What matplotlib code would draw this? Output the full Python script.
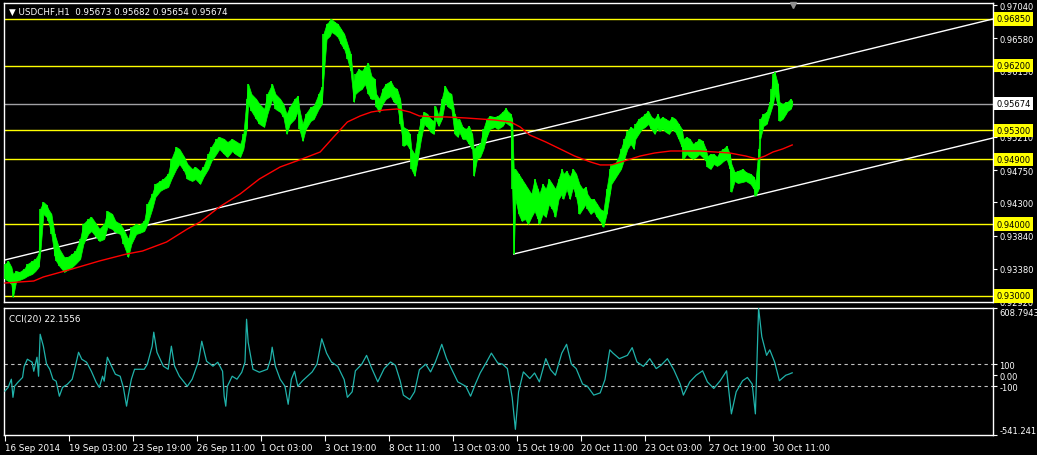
import matplotlib.pyplot as plt
from matplotlib.transforms import blended_transform_factory

# H1 bars sampled along the chart: bar index, high, low
bar = [0, 2, 4, 5, 7, 9, 12, 14, 17, 19, 21, 22, 24, 26, 27, 29, 31, 32, 34, 37,
       39, 42, 44, 47, 49, 52, 54, 57, 59, 62, 64, 67, 69, 72, 74, 77, 79, 82, 84, 87,
       89, 92, 94, 97, 99, 102, 104, 107, 109, 112, 114, 117, 119, 122, 124, 127, 129, 132, 134, 137,
       139, 142, 144, 147, 149, 151, 152, 154, 157, 159, 162, 164, 167, 169, 172, 174, 176, 178, 181, 183,
       184, 186, 188, 191, 193, 196, 198, 199, 201, 203, 204, 206, 208, 210, 212, 214, 216, 218, 219, 221,
       223, 225, 227, 229, 231, 232, 234, 236, 238, 241, 243, 245, 247, 249, 251, 253, 254, 256, 258, 260,
       262, 264, 266, 268, 269, 271, 273, 275, 277, 279, 281, 283, 284, 286, 288, 290, 292, 293, 295, 297,
       299, 301, 303, 306, 308, 311, 313, 314, 316, 317, 318, 319, 321, 323, 325, 327, 329, 331, 333, 334,
       336, 338, 340, 342, 344, 346, 348, 349, 351, 353, 355, 357, 359, 361, 363, 364, 366, 368, 370, 372,
       374, 376, 378, 379, 381, 383, 385, 387, 389, 391, 393, 394, 396, 398, 400, 402, 404, 406, 408, 409,
       411, 413, 415, 417, 419, 421, 423, 424, 426, 428, 430, 432, 434, 436, 438, 439, 441, 443, 445, 447,
       449, 451, 453, 454, 456, 458, 461, 463, 466, 468, 469, 471, 472, 474, 476, 478, 479, 480, 481, 483,
       484, 486, 488, 489, 491, 492]
high = [.93444, .93486, .93403, .93306, .93347, .93333, .93375, .93444, .93486, .93514, .93583, .94209, .94306, .94265, .94209, .94140, .93862, .93792, .93653, .93541,
        .93541, .93583, .93625, .93792, .94001, .94070, .94098, .94001, .93931, .94001, .94181, .94140, .94042, .94001, .93931, .93792, .93959, .94001, .93987, .94042,
        .94279, .94418, .94557, .94598, .94626, .94696, .94904, .95071, .95043, .94932, .94835, .94765, .94793, .94737, .94793, .94973, .95071, .95182, .95210, .95182,
        .95140, .95182, .95154, .95113, .95252, .95738, .95947, .95808, .95738, .95669, .95599, .95808, .95947, .95808, .95738, .95669, .95530, .95627, .95738, .95780,
        .95599, .95391, .95530, .95627, .95641, .95808, .95905, .96642, .96781, .96822, .96850, .96808, .96781, .96711, .96642, .96503, .96364, .95947, .96086, .96155,
        .96127, .96183, .96238, .96058, .96016, .95808, .95738, .95877, .95947, .95988, .95905, .95877, .95738, .95349, .95321, .95252, .95043, .94973, .95252, .95460,
        .95557, .95530, .95460, .95432, .95641, .95502, .95738, .95919, .95835, .95808, .95530, .95432, .95460, .95349, .95321, .95363, .95252, .95043, .95085, .95113,
        .95321, .95460, .95502, .95488, .95502, .95557, .95613, .95571, .95530, .95460, .94737, .94765, .94696, .94626, .94557, .94487, .94418, .94626, .94487, .94418,
        .94557, .94487, .94626, .94557, .94487, .94626, .94765, .94696, .94737, .94654, .94765, .94696, .94557, .94487, .94515, .94418, .94348, .94348, .94279, .94209,
        .94181, .94487, .94765, .94835, .94835, .94904, .95043, .95182, .95293, .95349, .95321, .95391, .95460, .95488, .95530, .95571, .95488, .95460, .95530, .95460,
        .95488, .95460, .95432, .95488, .95460, .95391, .95321, .95182, .95210, .95182, .95113, .95140, .95182, .95154, .95043, .94945, .94973, .94973, .94932, .95015,
        .95043, .95085, .94973, .94835, .94723, .94737, .94765, .94723, .94696, .94654, .94584, .95043, .95460, .95530, .95557, .95696, .95877, .96086, .96113, .95947,
        .95696, .95669, .95696, .95696, .95738, .95710]
low = [.93236, .93208, .93166, .92986, .93208, .93222, .93250, .93278, .93306, .93347, .93403, .93583, .94140, .94098, .94042, .93862, .93555, .93486, .93417, .93333,
       .93361, .93403, .93444, .93514, .93723, .93862, .93903, .93820, .93764, .93792, .93959, .93931, .93889, .93862, .93723, .93541, .93723, .93862, .93875, .93903,
       .94001, .94209, .94376, .94460, .94487, .94515, .94626, .94765, .94835, .94737, .94626, .94598, .94626, .94557, .94654, .94765, .94876, .94973, .95043, .94973,
       .94932, .95015, .94973, .94932, .95043, .95321, .95669, .95571, .95460, .95391, .95349, .95530, .95738, .95599, .95557, .95488, .95252, .95391, .95460, .95571,
       .95321, .95154, .95321, .95432, .95460, .95599, .95669, .96016, .96572, .96614, .96669, .96642, .96600, .96503, .96433, .96294, .96127, .95696, .95808, .95849,
       .95877, .95947, .95808, .95738, .95738, .95627, .95557, .95669, .95738, .95780, .95696, .95669, .95391, .95085, .95113, .95043, .94765, .94668, .94904, .95182,
       .95391, .95349, .95279, .95252, .95460, .95363, .95460, .95696, .95627, .95599, .95252, .95210, .95279, .95182, .95182, .95113, .95043, .94668, .94904, .94932,
       .95043, .95210, .95321, .95349, .95321, .95363, .95432, .95391, .95363, .94487, .93583, .94348, .94140, .94042, .94070, .94001, .94098, .94181, .94070, .94001,
       .94140, .94098, .94279, .94209, .94098, .94348, .94418, .94348, .94487, .94348, .94515, .94376, .94140, .94209, .94279, .94209, .94140, .94181, .94098, .94042,
       .93959, .94140, .94418, .94557, .94626, .94696, .94765, .94904, .95043, .95113, .95043, .95182, .95252, .95321, .95349, .95391, .95321, .95252, .95349, .95293,
       .95321, .95279, .95252, .95321, .95279, .95182, .95071, .94904, .94973, .94932, .94904, .94932, .94973, .94932, .94876, .94793, .94765, .94835, .94807, .94835,
       .94876, .94904, .94765, .94446, .94598, .94570, .94584, .94598, .94557, .94487, .94390, .94487, .95182, .95363, .95391, .95530, .95599, .95669, .95808, .95641,
       .95432, .95460, .95530, .95571, .95599, .95655]

# red moving average
ma_bar = [0, 18, 24, 42, 59, 76, 86, 101, 114, 122, 134, 147, 159, 172, 184, 197, 206, 214, 222, 229,
          237, 245, 253, 259, 269, 276, 288, 297, 306, 316, 322, 328, 338, 347, 356, 366, 372, 379, 387, 397,
          406, 416, 425, 434, 444, 453, 463, 470, 475, 480, 486, 492]
ma_val = [.93180, .93208, .93264, .93375, .93486, .93583, .93625, .93750, .93931, .94028, .94237, .94418, .94626, .94793, .94890, .95001, .95224, .95418, .95502, .95557,
          .95585, .95599, .95557, .95502, .95488, .95488, .95474, .95460, .95446, .95418, .95349, .95237, .95140, .95043, .94945, .94862, .94821, .94821, .94876, .94945,
          .94987, .95015, .95015, .95015, .95001, .94987, .94945, .94904, .94945, .95001, .95043, .95099]

# CCI(20)
cci_bar = [0, 2, 4, 5, 6, 8, 11, 12, 14, 17, 18, 20, 21, 22, 24, 26, 28, 30, 32, 34,
           36, 39, 42, 44, 46, 48, 51, 54, 57, 59, 61, 62, 64, 66, 69, 72, 74, 76, 77, 79,
           81, 84, 87, 89, 92, 93, 95, 99, 102, 104, 106, 109, 114, 117, 121, 123, 126, 130, 133, 136,
           137, 138, 139, 142, 145, 148, 150, 151, 152, 155, 159, 164, 166, 167, 169, 172, 175, 177, 179, 181,
           183, 186, 189, 192, 195, 198, 201, 204, 208, 212, 214, 217, 219, 223, 226, 229, 233, 237, 241, 244,
           247, 249, 253, 256, 259, 263, 266, 269, 273, 276, 279, 283, 288, 291, 294, 297, 301, 304, 308, 311,
           314, 317, 319, 321, 324, 328, 331, 334, 338, 341, 344, 348, 351, 354, 357, 361, 364, 368, 372, 375,
           378, 380, 384, 389, 392, 395, 399, 403, 407, 410, 414, 418, 422, 424, 428, 432, 436, 439, 443, 447,
           451, 454, 457, 461, 464, 467, 469, 471, 473, 476, 478, 481, 484, 488, 490, 492]
cci_val = [-143, -110, -36, -200, -100, -65, -20, 80, 145, 118, 36, 163, -9, 371, 263, 100, 54, -36, -54, -190,
           -110, -82, -36, 82, 208, 145, 118, 36, -64, -110, -9, -54, 163, 100, 9, -9, -110, -280, -190, -36,
           54, 54, 54, 100, 263, 390, 208, 82, 54, 263, 82, -9, -100, -36, 127, 308, 127, 82, 118, 36,
           -190, -280, -100, -9, -36, 27, 118, 507, 299, 54, 27, 54, 145, 254, 82, -36, -100, -263, -36, 36,
           -100, -50, -10, 30, 100, 330, 200, 120, 80, -40, -200, -150, 40, 100, 180, 70, -60, 60, 120, 90,
           -50, -180, -220, -150, 50, 100, 30, 120, 280, 150, 60, -60, -100, -190, -80, 20, 120, 200, 110, 100,
           60, -200, -490, -150, 30, -30, 20, -60, 150, 50, 0, 200, 280, 100, 60, -80, -100, -180, -160, -40,
           230, 200, 150, 180, 250, 120, 80, 150, 60, 90, 150, 50, -80, -180, -60, 0, 40, -60, -120, -50,
           40, -350, -150, -50, -20, -80, -350, 608, 350, 180, 230, 120, -50, 0, 10, 22]

levels = [0.9685, 0.9620, 0.9530, 0.9490, 0.9400, 0.9300]
bid = 0.95674
upper_trend_bar = [-1, 618]
upper_trend_val = [0.93495, 0.96853]
lower_trend_bar = [318, 618]
lower_trend_val = [0.93583, 0.95199]

price_ticks = [0.97040, 0.96580, 0.96130, 0.95670, 0.95210, 0.94750, 0.94300, 0.93840, 0.93380, 0.92920]
time_ticks = [0, 40, 80, 120, 160, 200, 240, 280, 320, 360, 400, 440, 480]
time_labels = ['16 Sep 2014', '19 Sep 03:00', '23 Sep 19:00', '26 Sep 11:00', '1 Oct 03:00',
               '3 Oct 19:00', '8 Oct 11:00', '13 Oct 03:00', '15 Oct 19:00', '20 Oct 11:00',
               '23 Oct 03:00', '27 Oct 19:00', '30 Oct 11:00']
cci_max, cci_min = 608.7943, -541.2411

W, H = 1037, 456
FS = 6.0
plt.rcParams['font.family'] = 'DejaVu Sans'
fig = plt.figure(figsize=(W / 100, H / 100), dpi=100, facecolor='black')
ax = fig.add_axes([4 / W, 1 - 303 / H, 989 / W, 299 / H], facecolor='black')
ax2 = fig.add_axes([4 / W, 1 - 436 / H, 989 / W, 127 / H], facecolor='black')

for a in (ax, ax2):
    a.set_xlim(-0.6, 617.5)
    for s in a.spines.values():
        s.set_color('white')
        s.set_linewidth(1)
    a.yaxis.tick_right()
    a.tick_params(axis='y', colors='white', length=3, width=0.8, pad=1.5, labelsize=FS)

ax.set_ylim(0.92916, 0.97072)

# horizontal levels, bid line, trend lines
for lv in levels:
    ax.axhline(lv, color='#ffff00', lw=1, zorder=2)
ax.axhline(bid, color='#a0a0a4', lw=1, zorder=2)
ax.plot(upper_trend_bar, upper_trend_val, color='white', lw=1, zorder=3)
ax.plot(lower_trend_bar, lower_trend_val, color='white', lw=1, zorder=3)

# price bars and MA
ax.fill_between(bar, low, high, color='#00ff00', edgecolor='#00ff00', lw=0.5, zorder=4)
ax.vlines(bar, low, high, color='#00ff00', lw=1.2, zorder=4)
ax.plot(ma_bar, ma_val, color='#ff0000', lw=1, zorder=5)

ax.set_xticks([])
ax.set_yticks(price_ticks)
ax.set_yticklabels([f'{t:.5f}' for t in price_ticks])

trans = blended_transform_factory(ax.transAxes, ax.transData)
for lv in levels:
    ax.text(1.0035, lv, f'{lv:.5f}', transform=trans, ha='left', va='center', fontsize=FS,
            color='black', clip_on=False, zorder=10,
            bbox=dict(boxstyle='square,pad=0.25', fc='#ffff00', ec='none'))
ax.text(1.0035, bid, f'{bid:.5f}', transform=trans, ha='left', va='center', fontsize=FS,
        color='black', clip_on=False, zorder=10,
        bbox=dict(boxstyle='square,pad=0.25', fc='white', ec='none'))

ax.text(0.005, 0.972, '\u25bc USDCHF,H1  0.95673 0.95682 0.95654 0.95674', transform=ax.transAxes,
        ha='left', va='center', fontsize=FS + 0.3, color='white')
fig.lines.append(plt.Line2D([793 / W], [1 - 6 / H], marker='v', ms=5, color='#909090',
                            transform=fig.transFigure))

# CCI panel
ax2.set_ylim(cci_min, cci_max)
ax2.plot(cci_bar, cci_val, color='#20b2aa', lw=0.9, zorder=4)
for lv in (100, -100):
    ax2.axhline(lv, color='#c0c0c0', lw=0.8, ls=(0, (3, 3)), zorder=2)
ax2.set_yticks([cci_max, 100, 0, -100, cci_min])
ax2.set_yticklabels([f'{cci_max:.4f}', '100', '0.00', '-100', f'{cci_min:.4f}'])
tl = ax2.get_yticklabels()
tl[0].set_va('top')
tl[-1].set_va('bottom')
ax2.text(0.005, 0.92, 'CCI(20) 22.1556', transform=ax2.transAxes, ha='left', va='center',
         fontsize=FS + 0.3, color='white')

ax2.set_xticks(time_ticks)
ax2.set_xticklabels(time_labels, ha='left')
ax2.tick_params(axis='x', colors='white', length=4, width=0.8, pad=1.5, labelsize=FS + 0.3)

fig.savefig('out.png', dpi=100, facecolor='black')
